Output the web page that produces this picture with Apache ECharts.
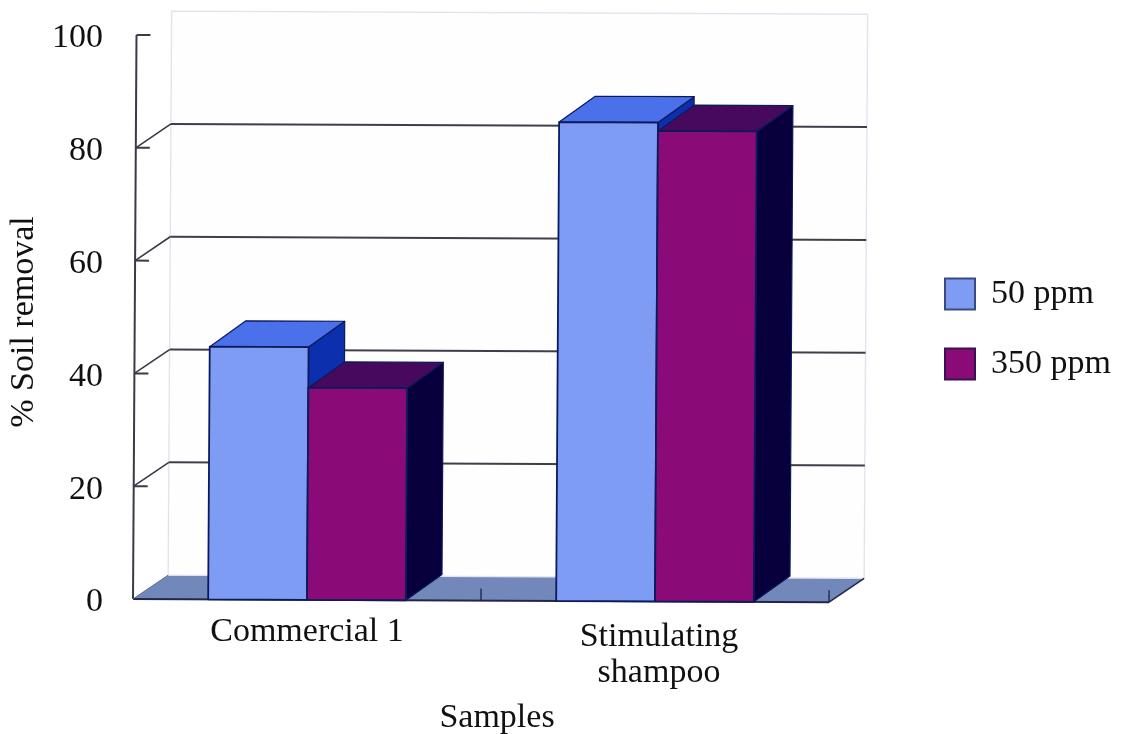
<!DOCTYPE html>
<html>
<head>
<meta charset="utf-8">
<style>html,body{margin:0;padding:0;background:#fff}#c{width:1123px;height:734px}</style>
<script src="https://cdn.jsdelivr.net/npm/echarts@6/dist/echarts.min.js"></script>
</head>
<body>
<div id="c"></div>
<script>
const categories = ['Commercial 1', 'Stimulating\nshampoo'];
const seriesNames = ['50 ppm', '350 ppm'];
const values50 = [44.8, 84.9];
const values350 = [37.6, 83.4];
const yTicks = [0, 20, 40, 60, 80, 100];

const FONT = '"Liberation Serif", serif';
const DEPTH_X = 35, DEPTH_Y = -24;
const BAR_FRACTION = 0.284;
const OUTLINE = '#0b1a5c';
const tiltAt = (cs) => (p) => [
  p[0] + (cs.y + cs.height - p[1]) * 0.0062,
  p[1] + (p[0] - cs.x) * 0.0045
];
const poly = (pts, fill, stroke, w) => ({
  type: 'polygon', shape: { points: pts },
  style: { fill: fill, stroke: stroke || null, lineWidth: w || 0, lineJoin: 'round' }
});
const line = (a, b, stroke, w) => ({
  type: 'line', shape: { x1: a[0], y1: a[1], x2: b[0], y2: b[1] },
  style: { stroke: stroke, lineWidth: w }
});

function renderFrame(params, api) {
  const cs = params.coordSys, t = tiltAt(cs);
  const tick = api.value(1);
  const y = api.coord([0, tick])[1];
  const L = cs.x, R = cs.x + cs.width;
  const children = [];
  if (tick === yTicks[0]) {
    children.push(poly([[L, y], [R, y], [R + DEPTH_X, y + DEPTH_Y], [L + DEPTH_X, y + DEPTH_Y]].map(t), '#7288bb'));
    const topY = api.coord([0, yTicks[yTicks.length - 1]])[1];
    children.push(poly([[L + DEPTH_X, y + DEPTH_Y], [L + DEPTH_X, topY + DEPTH_Y], [R + DEPTH_X, topY + DEPTH_Y], [R + DEPTH_X, y + DEPTH_Y]].map(t), '#fefeff', '#e3e3ee', 1.4));
    children.push(line(t([L, y]), t([L, topY]), '#3a3a48', 2));
    children.push(line(t([L, y]), t([R, y]), '#23264a', 2));
    children.push(line(t([R, y]), t([R + DEPTH_X, y + DEPTH_Y]), '#23264a', 1.6));
    children.push(line(t([R, y]), t([R, y - 12]), '#23264a', 1.4));
    children.push(line(t([L + cs.width / 2, y]), t([L + cs.width / 2, y - 12]), '#23264a', 1.4));
    children.push(line(t([L, y]), t([L + DEPTH_X, y + DEPTH_Y]), '#5a6a96', 1));
  } else {
    if (tick !== yTicks[yTicks.length - 1]) {
      children.push(line(t([L, y]), t([L + DEPTH_X, y + DEPTH_Y]), '#3a3a48', 1.6));
      children.push(line(t([L + DEPTH_X, y + DEPTH_Y]), t([R + DEPTH_X, y + DEPTH_Y]), '#3f3f4a', 2));
    }
    children.push(line(t([L, y]), t([L + 14, y]), '#3a3a48', 2));
  }
  return { type: 'group', children };
}

function renderBarFor(seriesPos, front, top, side) {
  return function (params, api) {
    const cs = params.coordSys, t = tiltAt(cs);
    const cat = api.value(0), val = api.value(1);
    const c = api.coord([cat, val]);
    const base = api.coord([cat, 0])[1];
    const w = api.size([1, 0])[0] * BAR_FRACTION;
    const x0 = c[0] + (seriesPos === 0 ? -w : 0), x1 = x0 + w, y = c[1];
    const d = [DEPTH_X + 1, DEPTH_Y - 2];
    return {
      type: 'group',
      children: [
        poly([[x1, y], [x1 + d[0], y + d[1]], [x1 + d[0], base + d[1]], [x1, base]].map(t), side, OUTLINE, 1.2),
        poly([[x0, y], [x0 + d[0], y + d[1]], [x1 + d[0], y + d[1]], [x1, y]].map(t), top, OUTLINE, 1.2),
        poly([[x0, y], [x1, y], [x1, base], [x0, base]].map(t), front, OUTLINE, 1.8)
      ]
    };
  };
}

const chart = echarts.init(document.getElementById('c'), null, { renderer: 'canvas' });
const textBase = { fontFamily: FONT, fontSize: 34, color: '#111' };
chart.setOption({
  animation: false,
  backgroundColor: '#fff',
  grid: { left: 133, top: 35, width: 696, height: 564, containLabel: false, outerBoundsMode: 'none' },
  legend: {
    data: seriesNames, orient: 'vertical', left: 944, top: 277, padding: 0,
    itemWidth: 30, itemHeight: 31, itemGap: 36, icon: 'rect',
    textStyle: { fontFamily: FONT, fontSize: 34, color: '#111', padding: [0, 0, 0, 11] },
    selectedMode: false
  },
  xAxis: {
    type: 'category',
    data: [
      { value: categories[0] },
      { value: categories[1], textStyle: { padding: [5, 0, 0, 8] } }
    ],
    axisLine: { show: false }, axisTick: { show: false },
    axisLabel: { ...textBase, margin: 15, lineHeight: 36, interval: 0 },
    name: 'Samples', nameLocation: 'middle', nameGap: 102,
    nameTextStyle: { ...textBase, padding: [0, 0, 0, 32] }
  },
  yAxis: {
    type: 'value', min: 0, max: 100, interval: 20,
    axisLine: { show: false }, axisTick: { show: false }, splitLine: { show: false },
    axisLabel: {
      ...textBase, margin: 30,
      formatter: '{a|{value}}',
      rich: { a: { fontFamily: FONT, fontSize: 34, color: '#111', padding: [7, 0, 0, 0] } }
    },
    name: '% Soil removal', nameLocation: 'middle', nameGap: 85,
    nameTextStyle: { ...textBase, padding: [0, 10, 0, 0] }
  },
  series: [
    {
      type: 'custom', name: 'frame', silent: true, clip: false, z: 1,
      renderItem: renderFrame, encode: { x: 0, y: 1 },
      data: yTicks.map(v => [0, v])
    },
    {
      type: 'custom', name: seriesNames[0], clip: false, z: 2,
      renderItem: renderBarFor(0, '#7f9cf4', '#4a70ea', '#0c2fae'),
      itemStyle: { color: '#7f9cf4', borderColor: '#3a4a80', borderWidth: 1.5 },
      encode: { x: 0, y: 1 },
      data: values50.map((v, i) => [i, v])
    },
    {
      type: 'custom', name: seriesNames[1], clip: false, z: 3,
      renderItem: renderBarFor(1, '#8a0a78', '#47095c', '#08003c'),
      itemStyle: { color: '#8a0a78', borderColor: '#3a1050', borderWidth: 1.5 },
      encode: { x: 0, y: 1 },
      data: values350.map((v, i) => [i, v])
    }
  ]
});
</script>
</body>
</html>
